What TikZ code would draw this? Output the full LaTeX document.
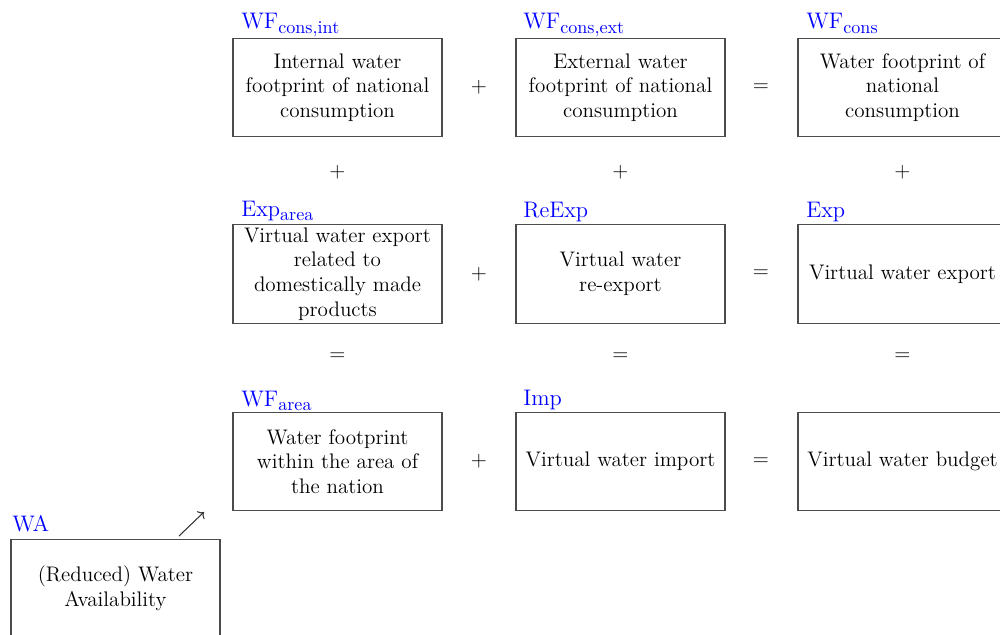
\documentclass[tikz,border=0pt]{standalone}
\usetikzlibrary{arrows.meta}
\newcommand\lsub[1]{\raisebox{-2.8pt}{\fontsize{10.3}{11}\selectfont #1}}
\begin{document}
\begin{tikzpicture}[x=0.02cm,y=-0.02cm,
  box/.style={draw=black!70, line width=0.7pt, minimum width=4.18cm, minimum height=1.97cm, align=center, font=\large, inner sep=1pt},
  lbl/.style={text=blue, font=\fontsize{12.8}{15}\selectfont, anchor=base west, inner sep=0pt},
  op/.style={font=\large, inner sep=0pt}]
\clip (0,0) rectangle (1000,635);
% row 1
\node[box] (wfint) at (337.5,87.5) {Internal water\\footprint of national\\consumption};
\node[box] (wfext) at (620.5,87.5) {External water\\footprint of national\\consumption};
\node[box] (wfcons) at (902.5,87.5) {Water footprint of\\national\\consumption};
% row 2
\node[box] (exparea) at (337.5,274) {Virtual water export\\related to\\domestically made\\products};
\node[box] (reexp) at (620.5,274) {Virtual water\\re-export};
\node[box] (exp) at (902.5,274) {Virtual water export};
% row 3
\node[box] (wfarea) at (337.5,461.5) {Water footprint\\within the area of\\the nation};
\node[box] (imp) at (620.5,461.5) {Virtual water import};
\node[box] (vwb) at (902.5,461.5) {Virtual water budget};
% WA
\node[box] (wa) at (115.5,588.5) {(Reduced) Water\\Availability};
% labels
\node[lbl] (l1) at (241,29) {WF\lsub{cons,int}};
\node[lbl] (l2) at (523,29) {WF\lsub{cons,ext}};
\node[lbl] (l3) at (806,29) {WF\lsub{cons}};
\node[lbl] (l4) at (241,216) {Exp\lsub{area}};
\node[lbl] (l5) at (523,217) {ReExp};
\node[lbl] (l6) at (806,217) {Exp};
\node[lbl] (l7) at (241,406) {WF\lsub{area}};
\node[lbl] (l8) at (523,405) {Imp};
\node[lbl] (l9) at (12,531) {WA};
% operators horizontal
\node[op] (o1) at (479,87.5) {$+$};
\node[op] (o2) at (761,87.5) {$=$};
\node[op] (o3) at (479,274) {$+$};
\node[op] (o4) at (761,274) {$=$};
\node[op] (o5) at (479,461.5) {$+$};
\node[op] (o6) at (761,461.5) {$=$};
% operators vertical
\node[op] (v1) at (337.5,172) {$+$};
\node[op] (v2) at (620.5,172) {$+$};
\node[op] (v3) at (902.5,172) {$+$};
\node[op] (v4) at (337.5,357) {$=$};
\node[op] (v5) at (620.5,357) {$=$};
\node[op] (v6) at (902.5,357) {$=$};
% arrow
\coordinate (a1) at (179,536);
\coordinate (a2) at (204,512);
\draw[->, black!80, line width=0.6pt] (a1) -- (a2);
\end{tikzpicture}
\end{document}
